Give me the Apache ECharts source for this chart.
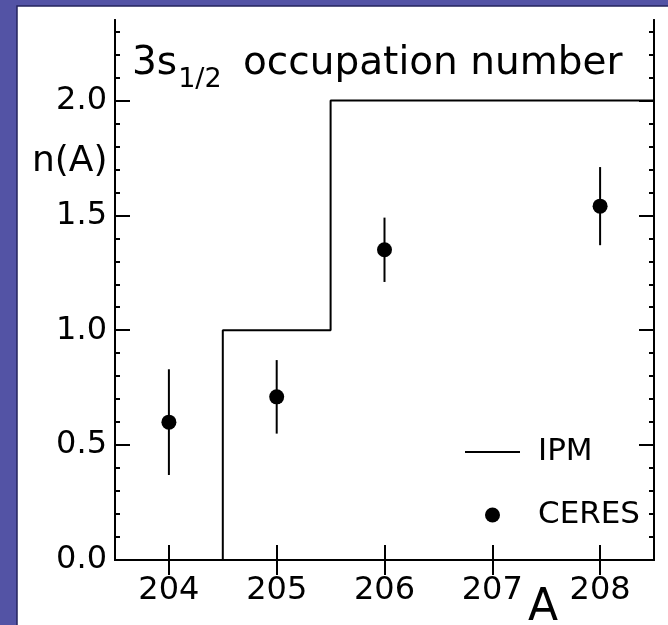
<!DOCTYPE html>
<html><head><meta charset="utf-8">
<script src="https://cdn.jsdelivr.net/npm/echarts@6/dist/echarts.min.js"></script>
<style>html,body{margin:0;padding:0;background:#5353a5}#c{width:668px;height:625px}</style>
</head><body><div id="c"></div>
<script>
// ---- data ----
const xTickValues = [204, 205, 206, 207, 208];
const yTickValues = [0, 0.5, 1.0, 1.5, 2.0];
const ipmA = [204, 205, 206, 207, 208];
const ipmN = [0, 1, 2, 2, 2];
const ceresA = [204, 205, 206, 208];
const ceresN = [0.60, 0.71, 1.35, 1.54];
const ceresLow = [0.37, 0.55, 1.21, 1.37];
const ceresHigh = [0.83, 0.87, 1.49, 1.71];
const xMin = 203.5, xMax = 208.5, yMin = 0, yMax = 2.35;

const FONT = 'DejaVu Sans';
const yMinorValues = [];
for (let i = 1; i <= 23; i++) { if (i % 5 !== 0) yMinorValues.push(i / 10); }

const ipmData = [[xMin, ipmN[0]]].concat(ipmA.map((a, i) => [a, ipmN[i]]), [[xMax, ipmN[ipmN.length - 1]]]);
const ceresData = ceresA.map((a, i) => [a, ceresN[i]]);
const errData = ceresA.map((a, i) => [a, ceresLow[i], ceresHigh[i]]);

const line = { show: true, lineStyle: { color: '#000', width: 2 } };
function yAx(pos, major) {
  return {
    type: 'value', position: pos, min: yMin, max: yMax,
    axisLine: line,
    axisTick: { show: true, inside: true, length: major ? 15 : 5, customValues: major ? yTickValues : yMinorValues, lineStyle: { color: '#000', width: 2 } },
    axisLabel: (pos === 'left' && major) ? { show: true, customValues: yTickValues, formatter: v => v.toFixed(1), fontSize: 32, fontFamily: FONT, color: '#000', margin: 8 } : { show: false },
    splitLine: { show: false }
  };
}

const chart = echarts.init(document.getElementById('c'), null, { renderer: 'canvas' });
chart.setOption({
  animation: false,
  backgroundColor: 'transparent',
  graphic: [
    { type: 'rect', z: -10, silent: true, shape: { x: 17, y: 6, width: 651, height: 619 }, style: { fill: '#fff' } },
    { type: 'polyline', z: -9, silent: true, shape: { points: [[17, 625], [17, 6], [668, 6]] }, style: { stroke: '#24245e', lineWidth: 1.5, fill: null } }
  ],
  title: [
    { left: 132, top: 44, padding: 0, text: '{a|3s}{b|1/2}{a| occupation number}',
      textStyle: { rich: {
        a: { fontSize: 39, fontWeight: 'normal', fontFamily: FONT, lineHeight: 44, verticalAlign: 'top', color: '#000' },
        b: { fontSize: 27, fontWeight: 'normal', fontFamily: FONT, lineHeight: 44, verticalAlign: 'top', padding: [22, 9, 0, 1], color: '#000' } } } },
    { left: 32, top: 144, padding: 0, text: 'n(A)', textStyle: { fontSize: 36, fontWeight: 'normal', fontFamily: FONT, color: '#000' } },
    { left: 528, top: 587, padding: 0, text: 'A', textStyle: { fontSize: 44, fontWeight: 'normal', fontFamily: FONT, color: '#000' } }
  ],
  grid: { left: 115, right: 14, top: 20, bottom: 65, containLabel: false, outerBoundsMode: 'none' },
  legend: {
    orient: 'vertical', left: 465, top: 436, padding: 0, itemGap: 31,
    itemWidth: 55, itemHeight: 15,
    data: [
      { name: 'IPM', icon: 'path://M0,0L55,0L55,2L0,2Z', itemStyle: { color: '#000' } },
      { name: 'CERES', icon: 'circle', itemStyle: { color: '#000' } }
    ],
    textStyle: { fontSize: 31, lineHeight: 32, fontFamily: FONT, color: '#000', padding: [0, 0, 0, 13] }
  },
  xAxis: [
    { type: 'value', position: 'bottom', min: xMin, max: xMax,
      axisLine: line,
      axisTick: { show: true, inside: true, length: 15, customValues: xTickValues, lineStyle: { color: '#000', width: 2 } },
      axisLabel: { show: true, customValues: xTickValues, fontSize: 32, fontFamily: FONT, color: '#000', margin: 15 },
      splitLine: { show: false } },
    { type: 'value', position: 'top', min: xMin, max: xMax,
      axisLine: line,
      axisTick: { show: true, inside: true, length: 15, customValues: xTickValues, lineStyle: { color: '#000', width: 2 } },
      axisLabel: { show: false }, splitLine: { show: false } }
  ],
  yAxis: [yAx('left', true), yAx('left', false), yAx('right', true), yAx('right', false)],
  series: [
    { name: 'IPM', type: 'line', step: 'middle', data: ipmData, symbol: 'none', showSymbol: false,
      lineStyle: { color: '#000', width: 2 }, itemStyle: { color: '#000' }, z: 2 },
    { name: 'CERES-err', type: 'custom', data: errData, encode: { x: 0, y: [1, 2] }, z: 3,
      renderItem: (params, api) => {
        const p1 = api.coord([api.value(0), api.value(1)]);
        const p2 = api.coord([api.value(0), api.value(2)]);
        return { type: 'line', shape: { x1: p1[0], y1: p1[1], x2: p2[0], y2: p2[1] }, style: { stroke: '#000', lineWidth: 2 } };
      } },
    { name: 'CERES', type: 'scatter', data: ceresData, symbol: 'circle', symbolSize: 15, itemStyle: { color: '#000', opacity: 1 }, z: 4 }
  ]
});
</script>
</body></html>
